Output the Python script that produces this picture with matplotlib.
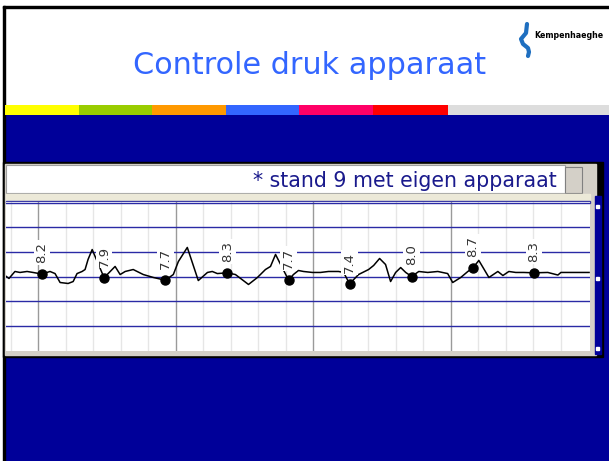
import numpy as np
import matplotlib.pyplot as plt
from matplotlib.patches import Rectangle

# slide text
title = 'Controle druk apparaat'
subtitle = '* stand 9 met eigen apparaat'
logo_text = 'Kempenhaeghe'

# pressure trace (time in s, value)
trace_t = [46.0, 47.3, 49.9, 52.1, 55.2, 57.8, 61.7, 65.2, 67.4, 69.6, 73.1, 75.3,
           77.0, 79.2, 80.5, 81.8, 83.6, 88.8, 93.6, 95.8, 98.0, 101.5, 105.9, 110.3,
           115.5, 119.0, 121.2, 125.1, 129.9, 133.9, 136.0, 138.2, 142.6, 146.1, 151.8,
           155.7, 159.2, 161.4, 163.6, 169.3, 171.4, 173.6, 175.8, 179.7, 183.2, 186.7,
           191.1, 193.3, 195.9, 199.8, 204.2, 206.4, 209.0, 211.6, 213.8, 216.0, 218.2,
           220.4, 223.0, 226.1, 230.0, 234.4, 238.7, 240.9, 244.4, 247.5, 249.7, 252.3,
           256.7, 260.6, 262.8, 265.4, 268.4, 271.9, 276.3, 282.4, 286.8, 288.1, 294.7,
           300.4]
trace_v = [8.02, 7.84, 8.41, 8.33, 8.41, 8.33, 8.2, 8.41, 8.24, 7.51, 7.43, 7.59,
           8.24, 8.41, 8.57, 9.39, 10.2, 7.9, 8.82, 8.16, 8.41, 8.57, 8.16, 7.92,
           7.7, 8.16, 9.22, 10.37, 7.67, 8.33, 8.41, 8.24, 8.3, 8.16, 7.35,
           7.92, 8.57, 8.82, 9.8, 7.7, 8.16, 8.49, 8.41, 8.33, 8.33, 8.41,
           8.41, 8.33, 7.4, 8.16, 8.57, 8.9, 9.47, 8.98, 7.59, 8.33, 8.73,
           8.33, 8.0, 8.41, 8.33, 8.41, 8.24, 7.51, 7.92, 8.41, 8.7, 9.31,
           7.92, 8.41, 8.08, 8.41, 8.33, 8.33, 8.3, 8.33, 8.12, 8.33, 8.33,
           8.33]

# marked readings
dot_t = [61.7, 88.8, 115.5, 142.6, 169.3, 195.9, 223.0, 249.7, 276.3]
dot_v = [8.2, 7.9, 7.7, 8.3, 7.7, 7.4, 8.0, 8.7, 8.3]

hlines = [4, 6, 8, 10, 12, 14]
major_t = [60, 120, 180, 240]
minor_t = [48, 72, 84, 96, 108, 132, 144, 156, 168, 192, 204, 216, 228, 252, 264, 276, 288]

W, H = 609, 461
fig = plt.figure(figsize=(W / 100, H / 100), dpi=100)

# slide background in pixel coordinates
bg = fig.add_axes([0, 0, 1, 1])
bg.set_xlim(0, W)
bg.set_ylim(H, 0)
bg.axis('off')

bg.add_patch(Rectangle((5, 115), 604, 346, color='#000099'))
bg.add_patch(Rectangle((3, 6), 2, 455, color='black'))
bg.add_patch(Rectangle((3, 6), 606, 2, color='black'))

bar_edges = [5, 79, 152, 226, 299, 373, 448, 609]
bar_colors = ['#FFFF00', '#99CC00', '#FF9900', '#3366FF', '#FF0066', '#FF0000', '#DDDDDD']
for i in range(len(bar_colors)):
    bg.add_patch(Rectangle((bar_edges[i], 105), bar_edges[i + 1] - bar_edges[i], 10,
                           color=bar_colors[i], lw=0))

bg.text(310, 65, title, ha='center', va='center', fontsize=21.8, color='#3366FF')

# logo
bg.plot([527, 526, 521, 523, 528, 529, 528], [24, 33, 39, 44, 48, 52, 56],
        color='#1F6FC0', lw=3, solid_capstyle='round')
bg.text(534, 36, logo_text, ha='left', va='center', fontsize=5.7,
        fontweight='bold', color='black')

# chart window
bg.add_patch(Rectangle((3, 162), 600, 195, color='black'))
bg.add_patch(Rectangle((5, 164), 591, 191, color='#D4D0C8'))
bg.add_patch(Rectangle((6, 165), 559, 28, facecolor='white', edgecolor='#A0A0A0', lw=0.8))
bg.add_patch(Rectangle((565, 167), 17, 26, facecolor='#D4D0C8', edgecolor='#808080', lw=0.8))
bg.add_patch(Rectangle((6, 194), 584, 8, color='#ECE9D8'))
bg.add_patch(Rectangle((6, 201), 584, 1.5, color='#3C3CA8'))
bg.add_patch(Rectangle((595, 196), 6, 158, color='#000099'))
for yy in [205, 277, 347]:
    bg.add_patch(Rectangle((596, yy), 3, 3, color='white'))
bg.text(557, 181, subtitle, ha='right', va='center', fontsize=14.8, color='#1A1A8C')

# plot area
ax = fig.add_axes([6 / W, (H - 351) / H, 584 / W, 149 / H])
ax.set_facecolor('white')
for s in ax.spines.values():
    s.set_visible(False)
ax.set_xticks([])
ax.set_yticks([])

for t in minor_t:
    ax.axvline(t, color='#E6E6E6', lw=1, zorder=1)
for t in major_t:
    ax.axvline(t, color='#9A9A9A', lw=1, zorder=1)
for v in hlines:
    ax.axhline(v, color='#2A2AA5', lw=1, zorder=2)

ax.plot(trace_t, trace_v, color='black', lw=1.1, zorder=3)
ax.plot(dot_t, dot_v, 'o', color='black', ms=6.5, zorder=4)
for t, v in zip(dot_t, dot_v):
    ax.annotate('{:.1f}'.format(v), (t, v), xytext=(0, 15.5), textcoords='offset points',
                rotation=90, ha='center', va='center', fontsize=9.5, color='#333333',
                bbox=dict(facecolor='white', edgecolor='none', pad=1.2), zorder=5)

ax.set_xlim(46, 300.8)
ax.set_ylim(1.92, 14.08)

fig.savefig('out.png', dpi=100)
